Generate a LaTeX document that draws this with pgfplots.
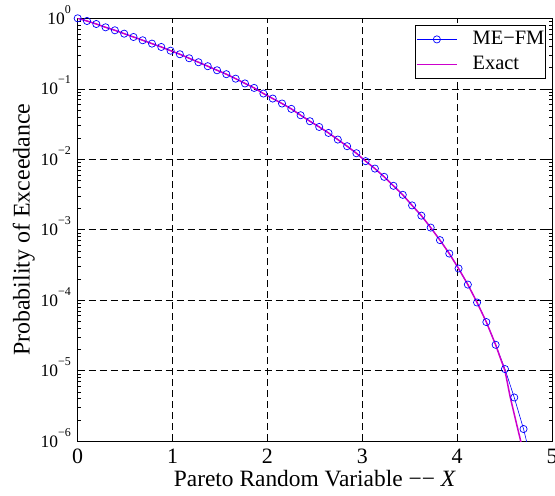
\documentclass[border=0pt]{standalone}
\usepackage{fontspec}
\setmainfont{Liberation Serif}
\usepackage{pgfplots}
\pgfplotsset{compat=1.18}
\definecolor{mefm}{rgb}{0,0,1}
\definecolor{exactc}{rgb}{0.8,0,0.8}
\newcommand{\tp}[1]{10\raisebox{11bp}{\fontsize{12}{12}\selectfont #1}}
\begin{document}
\begin{tikzpicture}
\useasboundingbox (-77.7bp,-55bp) rectangle (477.3bp,441bp);
\begin{axis}[
  at={(0,0)}, anchor=south west,
  scale only axis, width=474.3bp, height=422.7bp,
  ymode=log, xmin=0, xmax=5, ymin=1e-6, ymax=1,
  xtick={0,1,2,3,4,5}, xticklabels={0,1,2,3,4,5},
  ytick={1e-6,1e-5,1e-4,1e-3,1e-2,1e-1,1},
  yticklabels={\tp{−6},\tp{−5},\tp{−4},\tp{−3},\tp{−2},\tp{−1},\tp{0}},
  xticklabel style={font=\fontsize{22}{24}\selectfont, anchor=base, inner sep=0pt, yshift=-22bp},
  yticklabel style={font=\fontsize{17.5}{20}\selectfont, anchor=base east, inner sep=0pt, xshift=-6.7bp, yshift=-6bp},
  major tick length=5bp, minor tick length=3bp,
  tick style={black, line width=0.5bp},
  axis line style={black, line width=0.8bp},
  grid=major,
  major grid style={dash pattern=on 7bp off 4bp, black, line width=0.5bp},
  xlabel={Pareto Random Variable −− \textit{X}},
  xlabel style={at={(axis description cs:0.5,-0.1081)}, anchor=base, font=\fontsize{23.5}{26}\selectfont, inner sep=0pt},
  ylabel={Probability of Exceedance},
  ylabel style={at={(axis description cs:-0.1012,0.5)}, anchor=base, rotate=0, font=\fontsize{24}{26}\selectfont, inner sep=0pt},
  legend image code/.code={\draw[mark repeat=2,mark phase=2,#1] plot coordinates {(0bp,0bp) (20bp,0bp) (40bp,0bp)};},
  legend cell align=left,
  legend style={at={(axis description cs:1,1)}, anchor=north east, xshift=-6.3bp, yshift=-6.7bp,
    draw=black, line width=0.8bp, font=\fontsize{20.5}{24}\selectfont,
    nodes={inner sep=0pt, text height=15bp, text depth=5bp},
    inner xsep=1bp, inner ysep=4bp, row sep=5bp, column sep=15bp},
]
\addplot[mefm, line width=0.6bp, mark=o, mark size=3.6bp, mark options={line width=0.7bp}] coordinates {
(0.000,1) (0.098,0.916) (0.196,0.830) (0.294,0.745) (0.392,0.676) (0.490,0.605)
(0.588,0.543) (0.685,0.488) (0.783,0.437) (0.881,0.392) (0.979,0.347) (1.077,0.309)
(1.175,0.271) (1.273,0.238) (1.371,0.209) (1.469,0.183) (1.567,0.161) (1.665,0.139)
(1.763,0.119) (1.860,0.1028) (1.958,0.0855) (2.056,0.0726) (2.154,0.0617) (2.252,0.0518)
(2.350,0.0421) (2.448,0.0346) (2.546,0.0287) (2.644,0.0236) (2.742,0.0190) (2.840,0.0153)
(2.938,0.01216) (3.035,0.00938) (3.133,0.00736) (3.231,0.00562) (3.329,0.00419) (3.427,0.00312)
(3.525,0.00221) (3.623,0.00158) (3.721,0.00107) (3.819,0.000710) (3.917,0.000458) (4.015,0.000281)
(4.113,0.000166) (4.210,9.25e-5) (4.308,4.88e-5) (4.406,2.32e-5) (4.504,1.05e-5) (4.602,4.15e-6)
(4.700,1.48e-6)
};
\addlegendentry{ME−FM}
\addplot[mefm, line width=0.6bp, forget plot] coordinates {(4.700,1.48e-6) (4.798,4.3e-7)};
\addplot[exactc, line width=1.5bp] coordinates {
(0.000,1) (0.098,0.916) (0.196,0.830) (0.294,0.745) (0.392,0.676) (0.490,0.605)
(0.588,0.543) (0.685,0.488) (0.783,0.437) (0.881,0.392) (0.979,0.347) (1.077,0.309)
(1.175,0.271) (1.273,0.238) (1.371,0.209) (1.469,0.183) (1.567,0.161) (1.665,0.139)
(1.763,0.119) (1.860,0.1028) (1.958,0.0855) (2.056,0.0726) (2.154,0.0617) (2.252,0.0518)
(2.350,0.0421) (2.448,0.0346) (2.546,0.0287) (2.644,0.0236) (2.742,0.0190) (2.840,0.0153)
(2.938,0.01216) (3.035,0.00938) (3.133,0.00736) (3.231,0.00562) (3.329,0.00419) (3.427,0.00312)
(3.525,0.00221) (3.623,0.00158) (3.721,0.00107) (3.819,0.000710) (3.917,0.000458) (4.015,0.000281)
(4.113,0.000166) (4.210,9.25e-5) (4.308,4.88e-5) (4.406,2.32e-5) (4.45,1.58e-5) (4.504,1.0e-5)
(4.56,4.17e-6) (4.62,1.9e-6) (4.67,1.0e-6) (4.72,4.5e-7)
};
\addlegendentry{Exact}
\end{axis}
\end{tikzpicture}
\end{document}
